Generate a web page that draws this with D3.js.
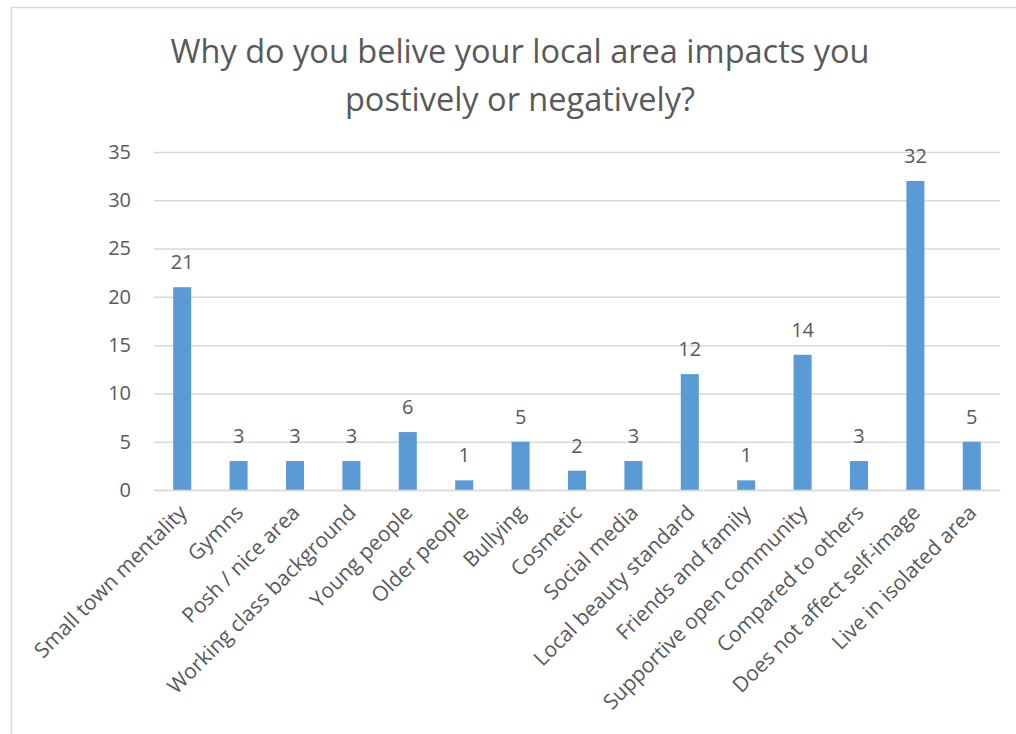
<!DOCTYPE html>
<html><head><meta charset="utf-8">
<script src="https://cdn.jsdelivr.net/npm/d3@7"></script>
<style>body{margin:0;background:#fff}svg{display:block}</style>
</head><body>
<svg id="chart" width="1016" height="734"></svg>
<script>
const titleLines = ["Why do you belive your local area impacts you", "postively or negatively?"];
const categories = ["Small town mentality","Gymns","Posh / nice area","Working class background","Young people","Older people","Bullying","Cosmetic","Social media","Local beauty standard","Friends and family","Supportive open community","Compared to others","Does not affect self-image","Live in isolated area"];
const values = [21,3,3,3,6,1,5,2,3,12,1,14,3,32,5];
const yTicks = [0,5,10,15,20,25,30,35];

const svg = d3.select("#chart");
const font = "'Open Sans', sans-serif";
const textColor = "#595959";

svg.append("rect").attr("x",11.5).attr("y",7.5).attr("width",1016).attr("height",740)
  .attr("fill","#fff").attr("stroke","#d9d9d9").attr("stroke-width",1.5);

const x = d3.scaleBand().domain(categories).range([154,1000]).paddingInner(0.68).paddingOuter(0.34);
const y = d3.scaleLinear().domain([0,35]).range([490,152]);

svg.append("g").selectAll("text").data(titleLines).join("text")
  .attr("x",520).attr("y",(d,i)=>63+i*48).attr("text-anchor","middle")
  .attr("font-family",font).attr("font-size",32.5).attr("fill",textColor).text(d=>d);

const yAxis = svg.append("g").attr("transform","translate(154,0)")
  .call(d3.axisLeft(y).tickValues(yTicks).tickSize(-846).tickPadding(23));
yAxis.select(".domain").remove();
yAxis.selectAll(".tick line").attr("stroke","#d9d9d9").attr("stroke-width",1.5);
yAxis.selectAll(".tick text").attr("font-family",font).attr("font-size",20).attr("fill",textColor);

svg.append("g").selectAll("rect").data(values).join("rect")
  .attr("x",(d,i)=>x(categories[i])).attr("width",x.bandwidth())
  .attr("y",d=>y(d)).attr("height",d=>y(0)-y(d)).attr("fill","#5b9bd5");

svg.append("g").selectAll("text").data(values).join("text")
  .attr("x",(d,i)=>x(categories[i])+x.bandwidth()/2).attr("y",d=>y(d)-18)
  .attr("text-anchor","middle").attr("font-family",font).attr("font-size",20).attr("fill",textColor).text(d=>d);

const xAxis = svg.append("g").attr("transform","translate(0,490)")
  .call(d3.axisBottom(x).tickSize(0).tickPadding(0));
xAxis.select(".domain").attr("stroke","#d9d9d9").attr("stroke-width",1.5);
xAxis.selectAll(".tick text").attr("font-family",font).attr("font-size",21).attr("fill",textColor)
  .attr("text-anchor","end").attr("dy",0).attr("y",0)
  .attr("transform","translate(6,24) rotate(-45)");
</script>
</body></html>
